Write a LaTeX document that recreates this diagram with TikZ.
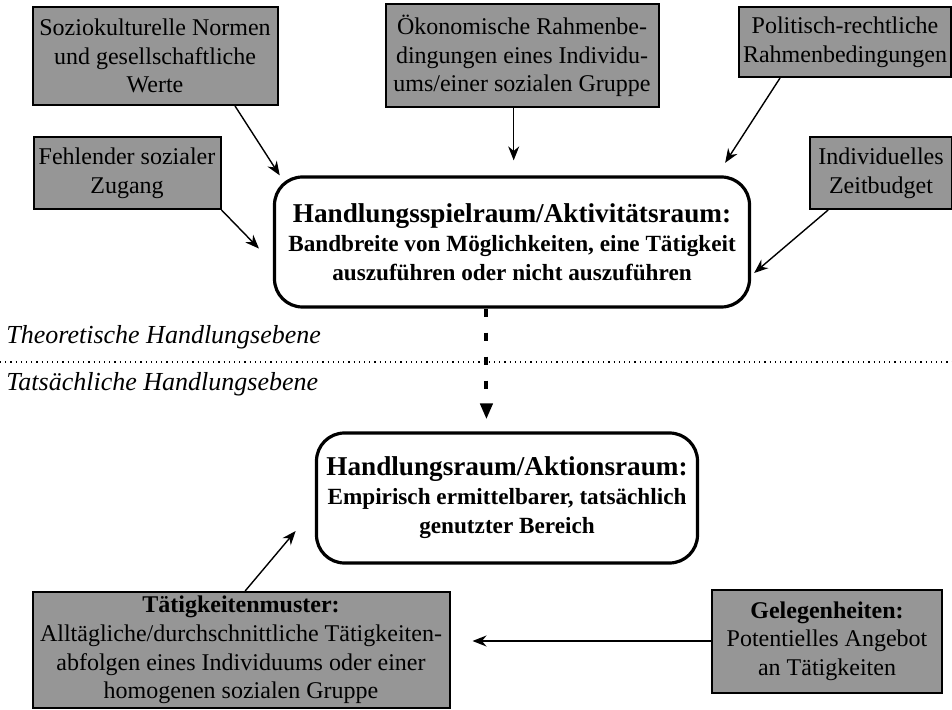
\documentclass[tikz,border=0pt]{standalone}
\usepackage{fontspec}
\setmainfont{Liberation Serif}
\usetikzlibrary{arrows.meta}
\definecolor{kastengrau}{RGB}{150,150,150}
\tikzset{
  kasten/.style={draw=black, line width=1pt, fill=kastengrau, align=center, inner sep=1pt,
    font=\fontsize{12}{14.3}\selectfont},
  raum/.style={draw=black, line width=1.6pt, rounded corners=14pt, align=center, inner sep=1pt,
    font=\fontsize{11.6}{14.5}\selectfont\bfseries},
  pfeil/.style={-{Stealth[length=7pt,width=5.5pt]}, line width=0.7pt},
  ebene/.style={anchor=west, inner sep=0pt, font=\fontsize{13}{15}\selectfont\itshape},
}
\begin{document}
\begin{tikzpicture}[x=0.5pt,y=-0.5pt]
            \useasboundingbox (0,0) rectangle (952,710);
            % Einflussfaktoren
            \node[kasten, minimum width=122.5pt, minimum height=49pt] (sozio) at (155,56)
                {Soziokulturelle Normen\\und gesellschaftliche\\Werte};
            \node[kasten, minimum width=136.5pt, minimum height=51.5pt] (oeko) at (522,56)
                {Ökonomische Rahmenbe-\\dingungen eines Individu-\\ums/einer sozialen Gruppe};
            \node[kasten, minimum width=106pt, minimum height=35pt] (polit) at (845,42)
                {Politisch-rechtliche\\Rahmenbedingungen};
            \node[kasten, minimum width=93.5pt, minimum height=36pt] (fehl) at (127,173)
                {Fehlender sozialer\\Zugang};
            \node[kasten, minimum width=71pt, minimum height=36pt] (indiv) at (881,173)
                {Individuelles\\Zeitbudget};
            % Raeume
            \node[raum, minimum width=237.5pt, minimum height=65pt] (spiel) at (512,242)
                {{\fontsize{13.6}{14.5}\selectfont Handlungsspielraum/Aktivitätsraum:}\\
                 Bandbreite von Möglichkeiten, eine Tätigkeit\\auszuführen oder nicht auszuführen};
            \node[raum, minimum width=190.5pt, minimum height=65pt] (aktion) at (507,498)
                {{\fontsize{13.6}{14.5}\selectfont Handlungsraum/Aktionsraum:}\\
                 Empirisch ermittelbarer, tatsächlich\\genutzter Bereich};
            % Muster und Gelegenheiten
            \node[kasten, minimum width=208.5pt, minimum height=58pt] (muster) at (241,650)
                {\textbf{Tätigkeitenmuster:}\\Alltägliche/durchschnittliche Tätigkeiten-\\abfolgen eines Individuums oder einer\\homogenen sozialen Gruppe};
            \node[kasten, minimum width=115pt, minimum height=51.5pt] (geleg) at (827,641)
                {\textbf{Gelegenheiten:}\\Potentielles Angebot\\an Tätigkeiten};
            % Ebenen
            \coordinate (linksgrenze) at (0,362);
            \coordinate (rechtsgrenze) at (952,362);
            \draw[dotted, line width=0.6pt] (linksgrenze) -- (rechtsgrenze);
            \node[ebene] (theorie) at (6,337) {Theoretische Handlungsebene};
            \node[ebene] (praxis) at (6,384) {Tatsächliche Handlungsebene};
            % Pfeile
            \draw[pfeil] (sozio.-32.5) -- (spiel.164);
            \draw[pfeil, shorten >=7.5pt] (oeko.-99) -- (oeko.-99 |- spiel.north);
            \draw[pfeil, shorten >=7.5pt] (polit.-151.7) -- (spiel.18.7);
            \draw[pfeil, shorten >=10pt] (fehl.south east) -- (spiel.185.3);
            \draw[pfeil, shorten >=2pt] (indiv.215) -- (spiel.-8);
            \draw[-{Triangle[length=8pt,width=6pt]}, line width=2pt, dash pattern=on 4pt off 8pt,
                shorten >=6pt] (spiel.-111) -- (spiel.-111 |- aktion.north);
            \draw[pfeil, shorten >=15pt] (muster.86) -- (aktion.183.6);
            \draw[pfeil, shorten >=11pt] (geleg.west) -- (geleg.west -| muster.east);
        \end{tikzpicture}
\end{document}
